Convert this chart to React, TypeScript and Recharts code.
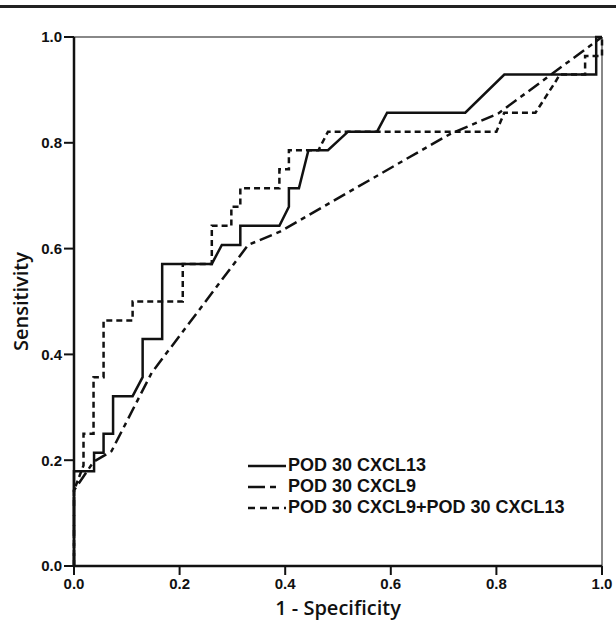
import React from "react";
import {
  LineChart,
  Line,
  XAxis,
  YAxis,
  ReferenceLine,
} from "recharts";

// ROC curves (x = 1 - specificity, y = sensitivity)
const cxcl13Fpr = [0, 0, 0.038, 0.038, 0.056, 0.056, 0.074, 0.074, 0.111, 0.13, 0.13, 0.167, 0.167, 0.261, 0.28, 0.315, 0.315, 0.389, 0.407, 0.407, 0.426, 0.444, 0.481, 0.519, 0.574, 0.593, 0.741, 0.815, 0.989, 0.989, 1];
const cxcl13Tpr = [0, 0.179, 0.179, 0.214, 0.214, 0.25, 0.25, 0.321, 0.321, 0.357, 0.429, 0.429, 0.571, 0.571, 0.607, 0.607, 0.643, 0.643, 0.679, 0.714, 0.714, 0.786, 0.786, 0.821, 0.821, 0.857, 0.857, 0.929, 0.929, 1, 1];

const cxcl9Fpr = [0, 0, 0.037, 0.071, 0.147, 0.33, 0.39, 0.674, 0.713, 0.803, 1];
const cxcl9Tpr = [0, 0.143, 0.197, 0.217, 0.365, 0.607, 0.632, 0.795, 0.817, 0.855, 1];

const comboFpr = [0, 0, 0.018, 0.018, 0.037, 0.037, 0.056, 0.056, 0.111, 0.111, 0.206, 0.206, 0.261, 0.261, 0.298, 0.298, 0.315, 0.315, 0.389, 0.389, 0.407, 0.407, 0.463, 0.481, 0.8, 0.815, 0.874, 0.889, 0.911, 0.92, 0.968, 0.968, 1, 1];
const comboTpr = [0, 0.143, 0.19, 0.25, 0.25, 0.357, 0.357, 0.464, 0.464, 0.5, 0.5, 0.571, 0.571, 0.643, 0.643, 0.679, 0.679, 0.714, 0.714, 0.75, 0.75, 0.786, 0.786, 0.821, 0.821, 0.857, 0.857, 0.88, 0.914, 0.929, 0.929, 0.964, 0.964, 1];

const ticks = [0, 0.2, 0.4, 0.6, 0.8, 1];

const zip = (xs: number[], ys: number[]) => xs.map((x, i) => ({ x, y: ys[i] }));

const series = [
  { name: "POD 30 CXCL13", data: zip(cxcl13Fpr, cxcl13Tpr), dash: undefined, icon: undefined },
  { name: "POD 30 CXCL9", data: zip(cxcl9Fpr, cxcl9Tpr), dash: "13 5 5 5", icon: "17 5 6 20" },
  { name: "POD 30 CXCL9+POD 30 CXCL13", data: zip(comboFpr, comboTpr), dash: "6 4", icon: "7 5" },
];

const tickStyle = {
  fill: "#111",
  fontSize: 15,
  fontWeight: 700,
  fontFamily: "'Liberation Sans', Arial, sans-serif",
};

const titleStyle = {
  fill: "#111",
  fontSize: 20,
  fontWeight: 600,
  fontFamily: "'Open Sans', sans-serif",
};

// legend drawn as an overlay so it doesn't shrink the plot area
function ChartLegend() {
  return (
    <div
      style={{
        position: "absolute",
        left: 248,
        top: 455,
        fontFamily: "'Liberation Sans', Arial, sans-serif",
      }}
    >
      {series.map((s) => (
        <div
          key={s.name}
          style={{ display: "flex", alignItems: "center", height: 21 }}
        >
          <svg width={38} height={10} style={{ marginRight: 2 }}>
            <line
              x1={0}
              y1={5}
              x2={38}
              y2={5}
              stroke="#111"
              strokeWidth={2.5}
              strokeDasharray={s.icon}
            />
          </svg>
          <span style={{ fontSize: 18, fontWeight: 700, color: "#111", whiteSpace: "nowrap" }}>
            {s.name}
          </span>
        </div>
      ))}
    </div>
  );
}

export default function App() {
  return (
    <div
      style={{
        position: "absolute",
        left: 0,
        top: 0,
        width: 616,
        height: 629,
        background: "#fff",
      }}
    >
      <div
        style={{
          position: "absolute",
          left: 0,
          top: 5,
          width: 616,
          height: 3,
          background: "#222",
        }}
      />
      <LineChart
        width={616}
        height={629}
        margin={{ top: 37, right: 14, left: 0, bottom: 0 }}
      >
        <XAxis
          type="number"
          dataKey="x"
          domain={[0, 1]}
          ticks={ticks}
          tickFormatter={(v: number) => v.toFixed(1)}
          tick={tickStyle}
          tickSize={9}
          tickMargin={3}
          height={63}
          axisLine={{ stroke: "#111", strokeWidth: 2.5 }}
          tickLine={{ stroke: "#111", strokeWidth: 2 }}
          label={{ value: "1 - Specificity", position: "insideBottom", offset: 14, style: titleStyle }}
        />
        <YAxis
          type="number"
          dataKey="y"
          domain={[0, 1]}
          ticks={ticks}
          tickFormatter={(v: number) => v.toFixed(1)}
          tick={tickStyle}
          tickSize={10}
          tickMargin={2}
          width={74}
          axisLine={{ stroke: "#111", strokeWidth: 2.5 }}
          tickLine={{ stroke: "#111", strokeWidth: 2 }}
          label={{
            value: "Sensitivity",
            angle: -90,
            position: "insideLeft",
            offset: 21,
            style: { ...titleStyle, textAnchor: "middle" },
          }}
        />
        <ReferenceLine y={1} stroke="#888" strokeWidth={2} />
        <ReferenceLine x={1} stroke="#888" strokeWidth={2} />
        {series.map((s) => (
          <Line
            key={s.name}
            name={s.name}
            data={s.data}
            dataKey="y"
            type="linear"
            stroke="#111"
            strokeWidth={2.5}
            strokeDasharray={s.dash}
            dot={false}
            activeDot={false}
            isAnimationActive={false}
          />
        ))}
      </LineChart>
      <ChartLegend />
    </div>
  );
}
